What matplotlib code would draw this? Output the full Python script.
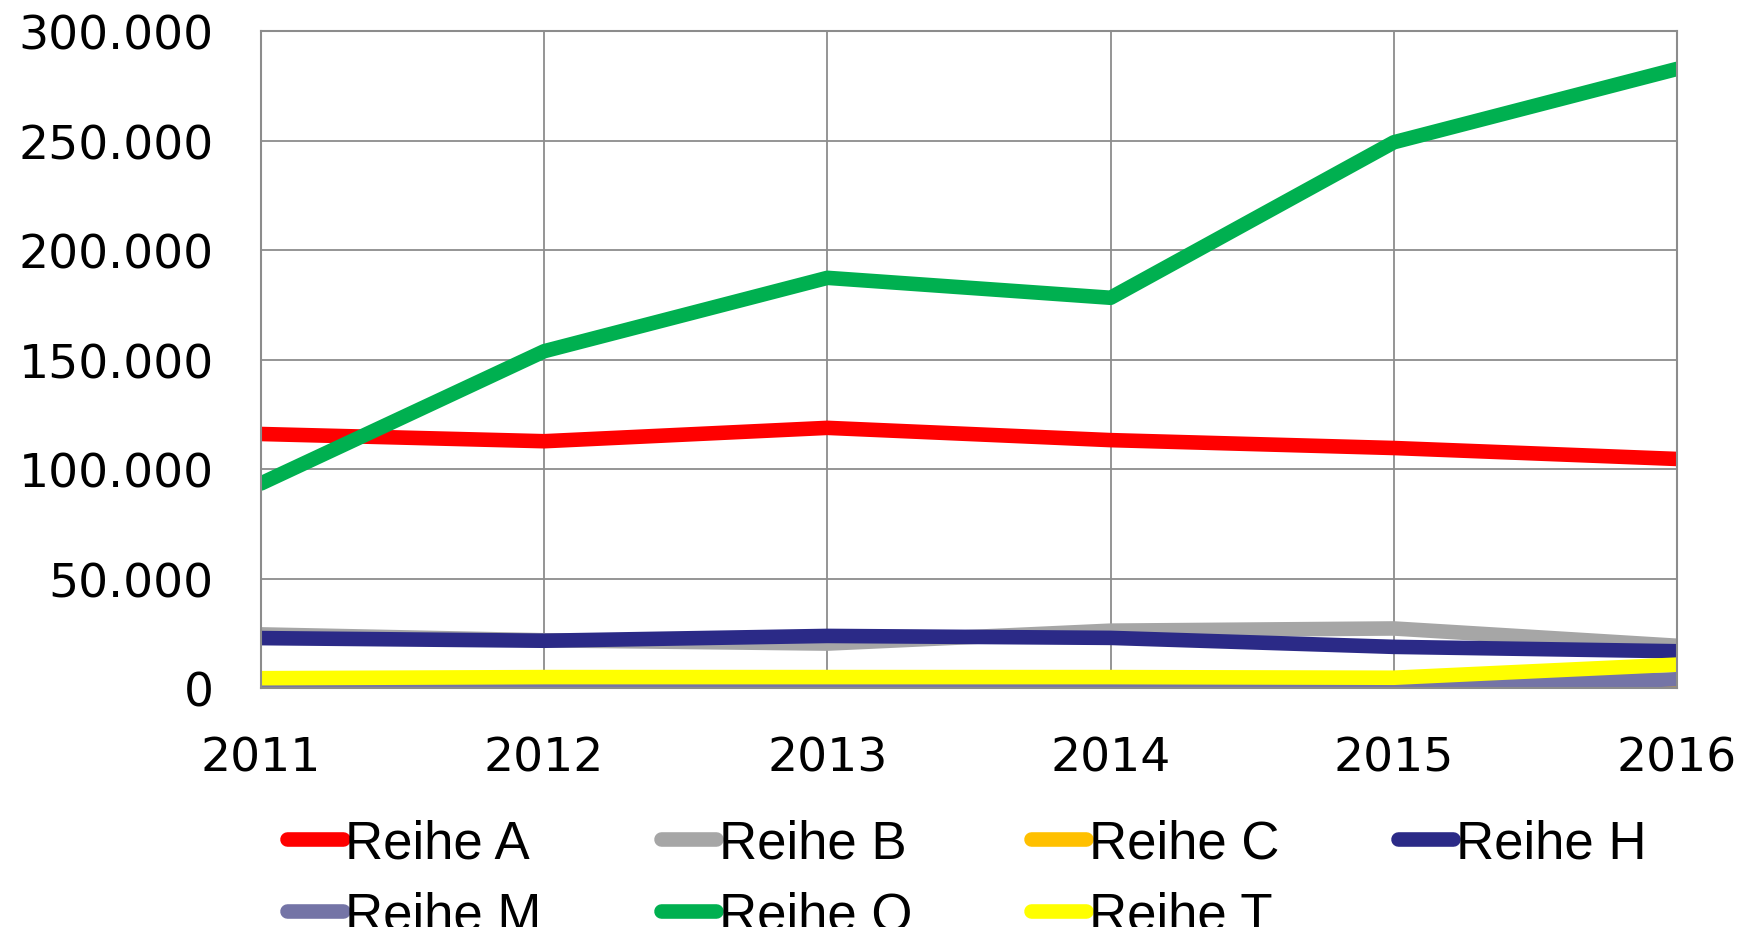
import matplotlib.pyplot as plt
from matplotlib.ticker import FuncFormatter, MultipleLocator

# values
years = [2011, 2012, 2013, 2014, 2015, 2016]
reihe_a = [116000, 112700, 118800, 113200, 109600, 104600]
reihe_b = [24500, 21800, 20300, 26200, 27200, 19300]
reihe_c = [1500, 1200, 1000, 800, 500, 300]
reihe_h = [22800, 21600, 23800, 22900, 18800, 16800]
reihe_m = [300, 300, 300, 400, 600, 4000]
reihe_o = [93400, 153800, 187300, 178200, 249200, 282700]
reihe_t = [4500, 5000, 5000, 5000, 4700, 10700]

series = [
    ('Reihe A', reihe_a, '#FF0000'),
    ('Reihe B', reihe_b, '#A6A6A6'),
    ('Reihe C', reihe_c, '#FFC000'),
    ('Reihe H', reihe_h, '#2B2A87'),
    ('Reihe M', reihe_m, '#7474A6'),
    ('Reihe O', reihe_o, '#00B050'),
    ('Reihe T', reihe_t, '#FFFF00'),
]


def thousands(v, pos):
    return '{:,.0f}'.format(v).replace(',', '.')


fig = plt.figure(figsize=(17.42, 9.28), dpi=100)
ax = fig.add_axes([0.1498, 0.2575, 0.8129, 0.708])

for label, vals, color in series:
    ax.plot(years, vals, color=color, lw=10.5, label=label, solid_capstyle='butt')

ax.set_xlim(2011, 2016)
ax.set_ylim(0, 300000)
ax.set_xticks(years)
ax.yaxis.set_major_locator(MultipleLocator(50000))
ax.yaxis.set_major_formatter(FuncFormatter(thousands))
ax.grid(True, color='#8C8C8C', lw=1.3)
ax.set_axisbelow(True)
for s in ax.spines.values():
    s.set_color('#8C8C8C')
    s.set_linewidth(1.5)
ax.tick_params(axis='both', length=0, labelsize=34)
ax.tick_params(axis='y', pad=34)
ax.tick_params(axis='x', pad=34)

# legend filled row by row: A B C H / M O T
handles, labels = ax.get_legend_handles_labels()
order = [0, 4, 1, 5, 2, 6, 3]
handles = [handles[i] for i in order]
labels = [labels[i] for i in order]
for h in handles:
    h.set_solid_capstyle('round')
leg = fig.legend(handles, labels, ncol=4, loc='upper left',
                 bbox_to_anchor=(0.165, 0.117), frameon=False,
                 prop={'family': 'Liberation Sans', 'size': 38},
                 handlelength=1.05, handletextpad=0.05, columnspacing=2.25,
                 labelspacing=0.42, borderpad=0, borderaxespad=0)

fig.savefig('out.png', dpi=100)
